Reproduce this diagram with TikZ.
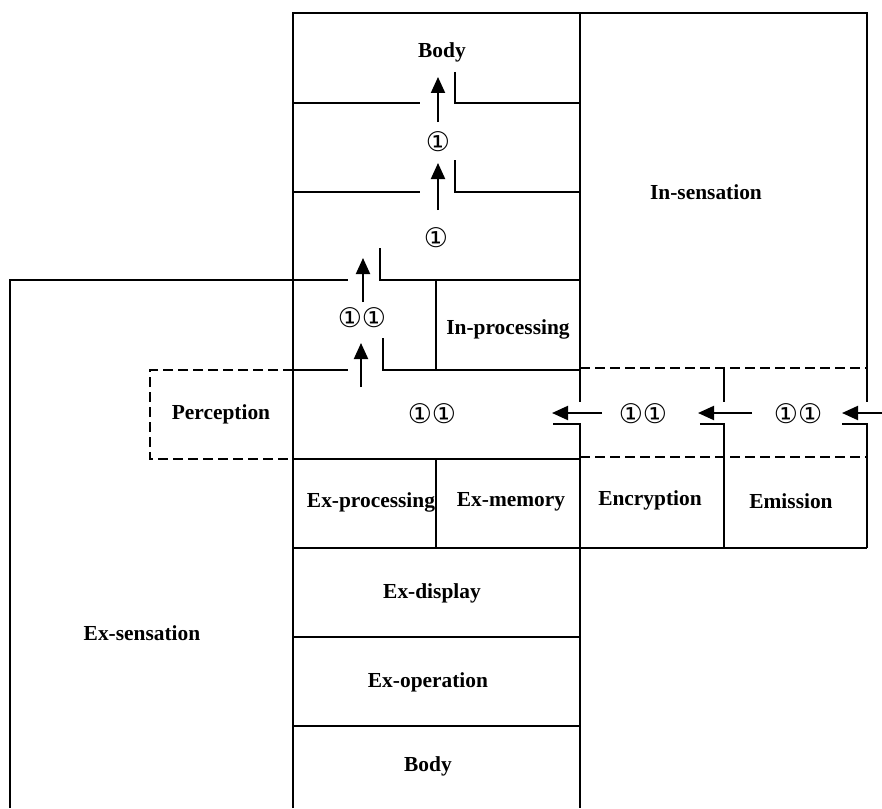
\documentclass[tikz,border=0pt]{standalone}
\usepackage{fontspec}
\setmainfont{Liberation Serif}
\newfontfamily\circfont{DejaVu Sans}
\usetikzlibrary{arrows.meta}
\tikzset{
  wall/.style={line width=0.9pt},
  dwall/.style={wall,dash pattern=on 5pt off 2.5pt},
  lbl/.style={font=\bfseries\fontsize{10.7}{12}\selectfont,inner sep=0pt},
  num/.style={font=\circfont\fontsize{13.5}{14}\selectfont,inner sep=0pt},
  arr/.style={-{Triangle[length=8pt,width=7pt]},line width=1pt},
}
\begin{document}
\begin{tikzpicture}[x=0.5pt,y=-0.5pt]
\useasboundingbox (0,0) rectangle (882,808);
\draw[wall] (293,808) -- (293,13) -- (867,13) -- (867,402);
\draw[wall] (580,13) -- (580,402);
\draw[wall] (553,424) -- (580,424) -- (580,808);
\draw[wall] (724,368) -- (724,402);
\draw[wall] (700,424) -- (724,424) -- (724,548);
\draw[wall] (842,424) -- (867,424) -- (867,548);
\draw[wall] (293,103) -- (420,103) (455,72) -- (455,103) -- (580,103);
\draw[wall] (293,192) -- (420,192) (455,160) -- (455,192) -- (580,192);
\draw[wall] (10,808) -- (10,280) -- (348,280) (380,248) -- (380,280) -- (580,280);
\draw[wall] (436,280) -- (436,370);
\draw[wall] (293,370) -- (348,370) (383,338) -- (383,370) -- (580,370);
\draw[wall] (293,459) -- (580,459);
\draw[wall] (436,459) -- (436,548);
\draw[wall] (293,548) -- (867,548);
\draw[wall] (293,637) -- (580,637) (293,726) -- (580,726);
\draw[dwall] (293,370) -- (150,370) -- (150,459) -- (293,459);
\draw[dwall] (580,368) -- (867,368) (580,457) -- (867,457);

\coordinate (u1) at (438,122); \coordinate (u1t) at (438,77);
\coordinate (u2) at (438,210); \coordinate (u2t) at (438,163);
\coordinate (u3) at (363,302); \coordinate (u3t) at (363,258);
\coordinate (u4) at (361,387); \coordinate (u4t) at (361,343);
\coordinate (l1) at (602,413); \coordinate (l1t) at (552,413);
\coordinate (l2) at (752,413); \coordinate (l2t) at (698,413);
\coordinate (l3) at (882,413); \coordinate (l3t) at (842,413);
\foreach \s in {u1,u2,u3,u4,l1,l2,l3}
  \draw[arr] (\s) -- (\s t);

\node[lbl] (bodytop) at (442,52) {Body};
\node[num] (n1) at (438,142) {①};
\node[num] (n2) at (436,238) {①};
\node[num] (n3) at (362,318) {①①};
\node[lbl] (inproc) at (508,329) {In-processing};
\node[lbl] (insens) at (706,192) {In-sensation};
\node[lbl] (percep) at (221,414) {Perception};
\node[num] (n4) at (432,414) {①①};
\node[num] (n5) at (643,414) {①①};
\node[num] (n6) at (798,414) {①①};
\node[lbl] (exproc) at (371,502) {Ex-processing};
\node[lbl] (exmem) at (511,502) {Ex-memory};
\node[lbl] (encr) at (650,500) {Encryption};
\node[lbl] (emis) at (791,501) {Emission};
\node[lbl] (exdisp) at (432,593) {Ex-display};
\node[lbl] (exop) at (428,682) {Ex-operation};
\node[lbl] (bodybot) at (428,766) {Body};
\node[lbl] (exsens) at (142,633) {Ex-sensation};
\end{tikzpicture}
\end{document}
